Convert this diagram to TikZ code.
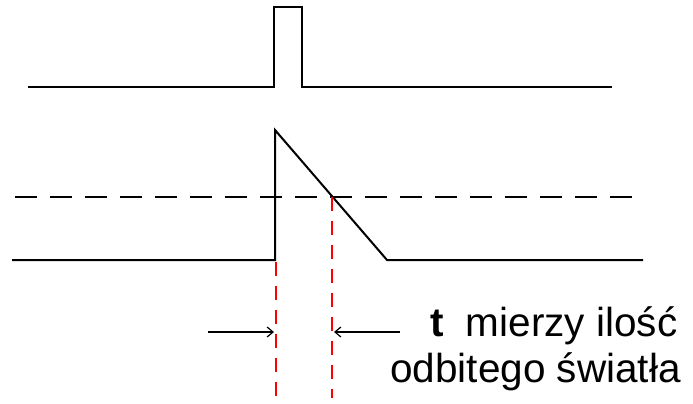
\documentclass[tikz,border=0pt]{standalone}
\usepackage{fontspec}
\setmainfont{Liberation Sans}
\usetikzlibrary{arrows.meta}
\begin{document}
\begin{tikzpicture}[x=1pt,y=-1pt,
  signal/.style={draw=black,line width=2pt,line join=miter},
  threshold/.style={draw=black,line width=1.5pt,dash pattern=on 22pt off 13pt},
  marker/.style={draw=red,line width=1.5pt,dash pattern=on 14pt off 10pt},
  pointer/.style={draw=black,line width=1.2pt,-{Straight Barb[length=6pt,width=10pt]}},
  label/.style={anchor=base west,inner sep=0pt,font=\fontsize{40.5}{46}\selectfont}]
\useasboundingbox (0,0) rectangle (693,404);
% top pulse
\draw[signal] (28,87) -- (274,87) -- (274,7) -- (302,7) -- (302,87) -- (612,87);
% response
\draw[signal] (12,260) -- (275,260) -- (275,130) -- (387,260) -- (643,260);
% threshold
\draw[threshold] (15,197) -- (643,197);
% markers
\coordinate (m1top) at (276,262);
\coordinate (m1bot) at (276,398);
\coordinate (m2top) at (332,197);
\coordinate (m2bot) at (332,398);
\draw[marker] (m1top) -- (m1bot);
\draw[marker] (m2top) -- (m2bot);
% arrows
\coordinate (a1s) at (208,332);
\coordinate (a1e) at (274,332);
\coordinate (a2s) at (400,332);
\coordinate (a2e) at (334,332);
\draw[pointer] (a1s) -- (a1e);
\draw[pointer] (a2s) -- (a2e);
% label
\node[label] (lbl1) at (430,336) {\textbf{t}\hspace{0.55em}mierzy ilość};
\node[label] (lbl2) at (390,382) {odbitego światła};
\end{tikzpicture}
\end{document}
